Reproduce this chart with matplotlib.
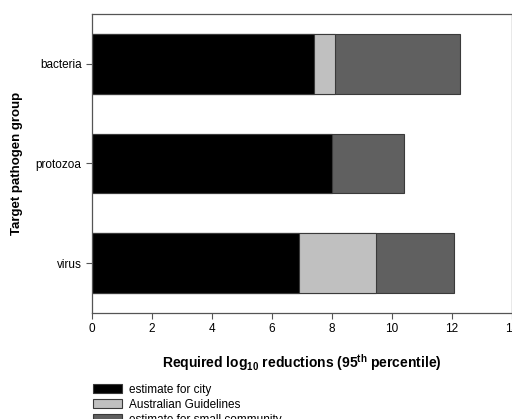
import numpy as np
import matplotlib
matplotlib.use("Agg")
from matplotlib import pyplot as plt

plt.rcParams['font.family'] = ['Liberation Sans', 'DejaVu Sans']

groups = ['virus', 'protozoa', 'bacteria']
city = [6.9, 8.0, 7.4]
guidelines = [9.45, 0.0, 8.1]
small_community = [12.05, 10.4, 12.25]

fig = plt.figure(figsize=(5.12, 4.19), dpi=100)
ax = fig.add_axes([92/512, 1 - 313/419, 420/512, 299/419])

y = np.arange(len(groups))
h = 0.6
edge = '#3a3a3a'
b3 = ax.barh(y, small_community, height=h, color='#606060', edgecolor=edge, linewidth=0.8)
b2 = ax.barh(y, guidelines, height=h, color='#c0c0c0', edgecolor=edge, linewidth=0.8)
b1 = ax.barh(y, city, height=h, color='black', edgecolor=edge, linewidth=0.8)

ax.set_xlim(0, 14)
ax.set_ylim(-0.5, 2.5)
ax.set_xticks(range(0, 15, 2))
ax.set_yticks(y)
ax.set_yticklabels(groups)
ax.tick_params(axis='both', labelsize=8.5, direction='out', length=4, color='#555555', width=0.8)
for s in ax.spines.values():
    s.set_color('#555555')
    s.set_linewidth(0.9)

ax.set_xlabel(r'Required log$\mathregular{_{10}}$ reductions (95$\mathregular{^{th}}$ percentile)',
              fontsize=10, fontweight='bold', labelpad=12)
ax.set_ylabel('Target pathogen group', fontsize=9.5, fontweight='bold', labelpad=9)

fig.legend([b1, b2, b3], ['estimate for city', 'Australian Guidelines', 'estimate for small community'],
           loc='upper left', bbox_to_anchor=(88/512, 1 - 379/419), frameon=False, fontsize=8.5,
           handlelength=2.5, handleheight=0.75, labelspacing=0.25, handletextpad=0.6, borderaxespad=0)

fig.savefig('out.png', dpi=100)
